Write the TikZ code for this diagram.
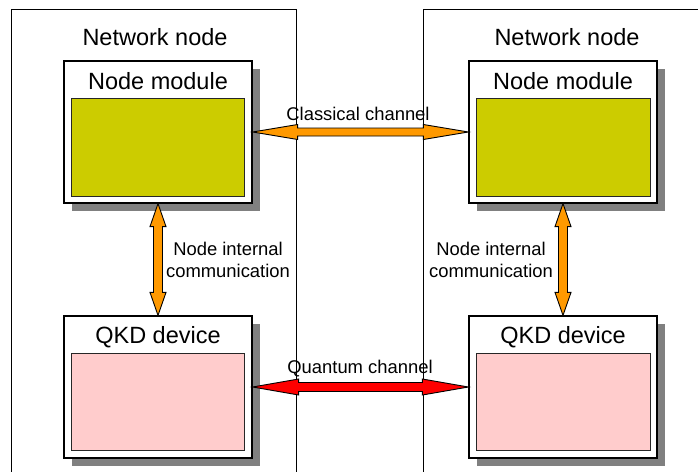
\documentclass[tikz,border=0pt]{standalone}
\usepackage{fontspec}
\setmainfont{Liberation Sans}
\usetikzlibrary{calc,shadows}
\definecolor{shadowgray}{HTML}{808080}
\definecolor{modyellow}{HTML}{CCCC00}
\definecolor{qkdpink}{HTML}{FFCCCC}
\definecolor{classorange}{HTML}{FF9900}
\definecolor{quantred}{HTML}{FF0000}
\newcommand{\harr}[6]{\draw[arrowline,fill=#1] let \p1=(#2), \p2=(#3) in
  (\x1,\y1) -- (\x1+#4,\y1+#5) -- (\x1+#4,\y1+#6) -- (\x2-#4,\y1+#6) -- (\x2-#4,\y1+#5)
  -- (\x2,\y1) -- (\x2-#4,\y1-#5) -- (\x2-#4,\y1-#6) -- (\x1+#4,\y1-#6) -- (\x1+#4,\y1-#5) -- cycle;}
\newcommand{\varr}[6]{\draw[arrowline,fill=#1] let \p1=(#2), \p2=(#3) in
  (\x1,\y1) -- (\x1+#5,\y1-#4) -- (\x1+#6,\y1-#4) -- (\x1+#6,\y2+#4) -- (\x1+#5,\y2+#4)
  -- (\x1,\y2) -- (\x1-#5,\y2+#4) -- (\x1-#6,\y2+#4) -- (\x1-#6,\y1-#4) -- (\x1-#5,\y1-#4) -- cycle;}
\tikzset{
  netbox/.style={draw=black,line width=0.9pt,fill=none,rectangle,inner sep=0pt},
  modbox/.style={draw=black,line width=1.2pt,fill=white,rectangle,inner sep=0pt,
    minimum width=188pt,minimum height=142pt,
    drop shadow={shadow xshift=8pt,shadow yshift=-8pt,fill=shadowgray,opacity=1}},
  innerbox/.style={draw=black!85,line width=0.9pt,rectangle,inner sep=0pt,
    minimum width=173pt,minimum height=98pt},
  bigtext/.style={font=\fontsize{23.5}{28}\selectfont,inner sep=0pt,anchor=base},
  smalltext/.style={font=\fontsize{18.4}{22}\selectfont,inner sep=0pt},
  arrowline/.style={draw=black,line width=0.9pt,line join=miter},
}
\begin{document}
\begin{tikzpicture}[x=1pt,y=-1pt]
\clip (0,0) rectangle (698,471);
\fill[white] (0,0) rectangle (698,471);
% network node frames (extend beyond the picture)
\node[netbox,minimum width=285pt,minimum height=520pt,anchor=north west] (netL) at (11,9) {};
\node[netbox,minimum width=320pt,minimum height=520pt,anchor=north west] (netR) at (423,9) {};
\node[bigtext] (netLt) at (155,45) {Network node};
\node[bigtext] (netRt) at (567,45) {Network node};
% node modules
\node[modbox] (nmL) at (158,132) {};
\node[modbox] (nmR) at (563,132) {};
\node[innerbox,fill=modyellow] (yL) at (157.5,147) {};
\node[innerbox,fill=modyellow,minimum width=174pt] (yR) at (563,147) {};
\node[bigtext] (nmLt) at (158,89) {Node module};
\node[bigtext] (nmRt) at (563,89) {Node module};
% QKD devices
\node[modbox] (qL) at (158,387) {};
\node[modbox] (qR) at (563,387) {};
\node[innerbox,fill=qkdpink,minimum height=97pt] (pL) at (157.5,401.5) {};
\node[innerbox,fill=qkdpink,minimum width=174pt,minimum height=97pt] (pR) at (563,401.5) {};
\node[bigtext] (qLt) at (158,343) {QKD device};
\node[bigtext] (qRt) at (563,343) {QKD device};
% channels
\harr{classorange}{nmL.east}{nmR.west}{45pt}{7.5pt}{4pt}
\harr{quantred}{qL.east}{qR.west}{46pt}{8pt}{4.5pt}
\varr{classorange}{nmL.south}{qL.north}{23pt}{8pt}{4.5pt}
\varr{classorange}{nmR.south}{qR.north}{23pt}{8pt}{4.5pt}
\node[smalltext,anchor=base] (cl) at (358,120) {Classical channel};
\node[smalltext,anchor=base] (ql) at (360,373) {Quantum channel};
\node[smalltext,align=center] (inL) at (228,259.5) {Node internal\\communication};
\node[smalltext,align=center] (inR) at (491,259.5) {Node internal\\communication};
\end{tikzpicture}
\end{document}
